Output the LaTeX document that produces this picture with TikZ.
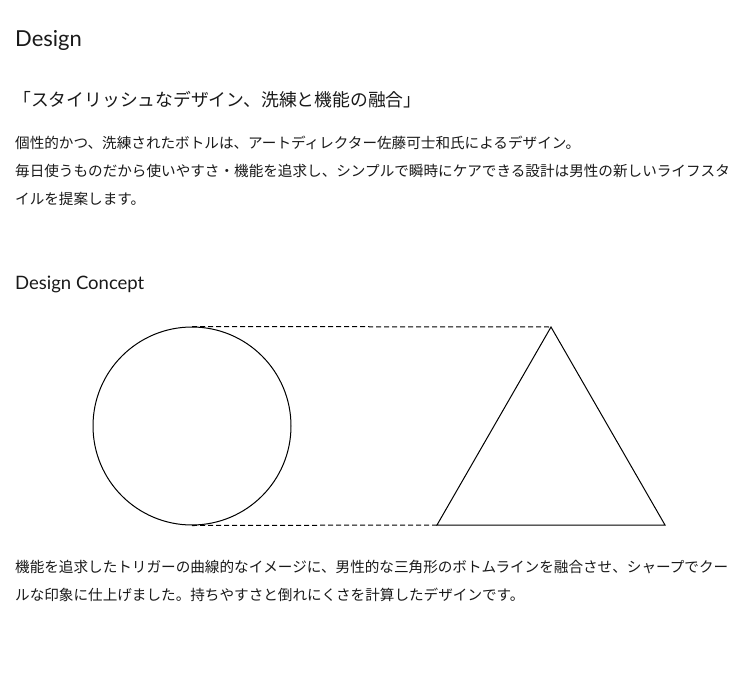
\documentclass[tikz,border=0pt]{standalone}
\usepackage{fontspec}
\setmainfont{Lato}
\newfontfamily\jp{Noto Sans CJK JP}
\usepackage{tikz}
\usetikzlibrary{shapes.geometric}

\begin{document}
\begin{tikzpicture}[x=1pt, y=-1pt,
    heading/.style={anchor=base west, inner sep=0pt, text=black!90},
    bodytext/.style={anchor=base west, inner sep=0pt, text=black!90, font=\jp\fontsize{14.6}{28}\selectfont},
    guide/.style={dashed, dash pattern=on 5pt off 3pt, line width=1pt}]
    \useasboundingbox (0,0) rectangle (750,680);
    % titles
    \node[heading, font=\fontsize{22}{26}\selectfont] (title) at (15,46) {Design};
    \node[heading, font=\jp\fontsize{17.8}{22}\selectfont] (catch) at (13,106) {「スタイリッシュなデザイン、洗練と機能の融合」};
    \node[bodytext] (line1) at (15,148) {個性的かつ、洗練されたボトルは、アートディレクター佐藤可士和氏によるデザイン。};
    \node[bodytext] (line2) at (15,176) {毎日使うものだから使いやすさ・機能を追求し、シンプルで瞬時にケアできる設計は男性の新しいライフスタ};
    \node[bodytext] (line3) at (15,204) {イルを提案します。};
    \node[heading, font=\fontsize{18.5}{22}\selectfont] (concept) at (15,289) {Design Concept};
    % shapes
    \node[draw, circle, minimum size=198pt, inner sep=0pt, line width=1pt] (round) at (192,426) {};
    \coordinate (apex) at (551,327);
    \coordinate (left) at (437,525);
    \coordinate (right) at (665,525);
    \draw[line width=1pt, line join=miter] (apex) -- (right) -- (left) -- cycle;
    \draw[guide] (round.north) -- (apex);
    \draw[guide] (round.south) -- (left);
    % text below
    \node[bodytext] (line4) at (15,572) {機能を追求したトリガーの曲線的なイメージに、男性的な三角形のボトムラインを融合させ、シャープでクー};
    \node[bodytext] (line5) at (15,600) {ルな印象に仕上げました。持ちやすさと倒れにくさを計算したデザインです。};
\end{tikzpicture}
\end{document}
